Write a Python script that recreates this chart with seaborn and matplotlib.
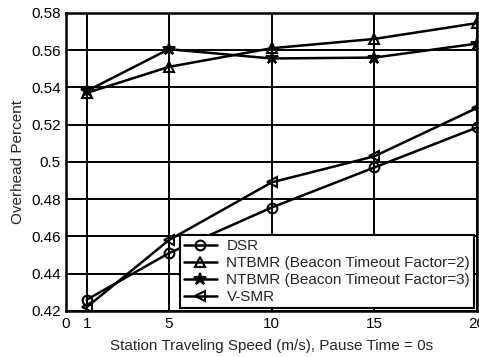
import matplotlib
matplotlib.use("Agg")
import matplotlib.pyplot as plt
import seaborn as sns
import pandas as pd

sns.set_style("white")
plt.rcParams['font.family'] = ['Liberation Sans', 'DejaVu Sans']

speed = [1, 5, 10, 15, 20]
dsr = [0.426, 0.451, 0.4755, 0.497, 0.5185]
ntbmr2 = [0.537, 0.551, 0.561, 0.566, 0.5745]
ntbmr3 = [0.538, 0.5605, 0.5555, 0.556, 0.5635]
vsmr = [0.422, 0.458, 0.489, 0.503, 0.529]

labels = ["DSR", "NTBMR (Beacon Timeout Factor=2)",
          "NTBMR (Beacon Timeout Factor=3)", "V-SMR"]
series = [dsr, ntbmr2, ntbmr3, vsmr]
markers = ["o", "^", "*", "<"]
xticks = [0, 1, 5, 10, 15, 20]
yticks = [0.42, 0.44, 0.46, 0.48, 0.5, 0.52, 0.54, 0.56, 0.58]

fig = plt.figure(figsize=(4.79, 3.57), dpi=100)
ax = fig.add_axes([0.138, 0.129, 0.858, 0.835])

for lab, vals, m in zip(labels, series, markers):
    df = pd.DataFrame({"speed": speed, "overhead": vals})
    face = "k" if m == "*" else "none"
    sns.lineplot(data=df, x="speed", y="overhead", ax=ax, color="k",
                 linewidth=1.8, marker=m, markersize=7 if m != "*" else 9,
                 markerfacecolor=face, markeredgecolor="k", markeredgewidth=1.5,
                 label=lab)

ax.set_xlim(0, 20)
ax.set_ylim(0.42, 0.58)
ax.set_xticks(xticks)
ax.set_xticklabels([str(t) for t in xticks])
ax.set_yticks(yticks)
ax.set_yticklabels(["0.42", "0.44", "0.46", "0.48", "0.5", "0.52", "0.54", "0.56", "0.58"])
ax.grid(True, color="k", linewidth=1.4, linestyle="-")
for s in ax.spines.values():
    s.set_linewidth(1.8)
    s.set_color("k")
ax.tick_params(labelsize=11, colors="k", length=0, pad=4)
ax.set_xlabel("Station Traveling Speed (m/s), Pause Time = 0s", fontsize=11, labelpad=6)
ax.set_ylabel("Overhead Percent", fontsize=11, labelpad=4)

leg = ax.legend(loc="lower right", fontsize=11, frameon=True, fancybox=False,
                handlelength=2.2, handletextpad=0.6, borderpad=0.25,
                labelspacing=0.2, borderaxespad=0.2, edgecolor="k")
leg.get_frame().set_linewidth(1.5)
leg.get_frame().set_alpha(1)

fig.savefig("out.png", dpi=100)
